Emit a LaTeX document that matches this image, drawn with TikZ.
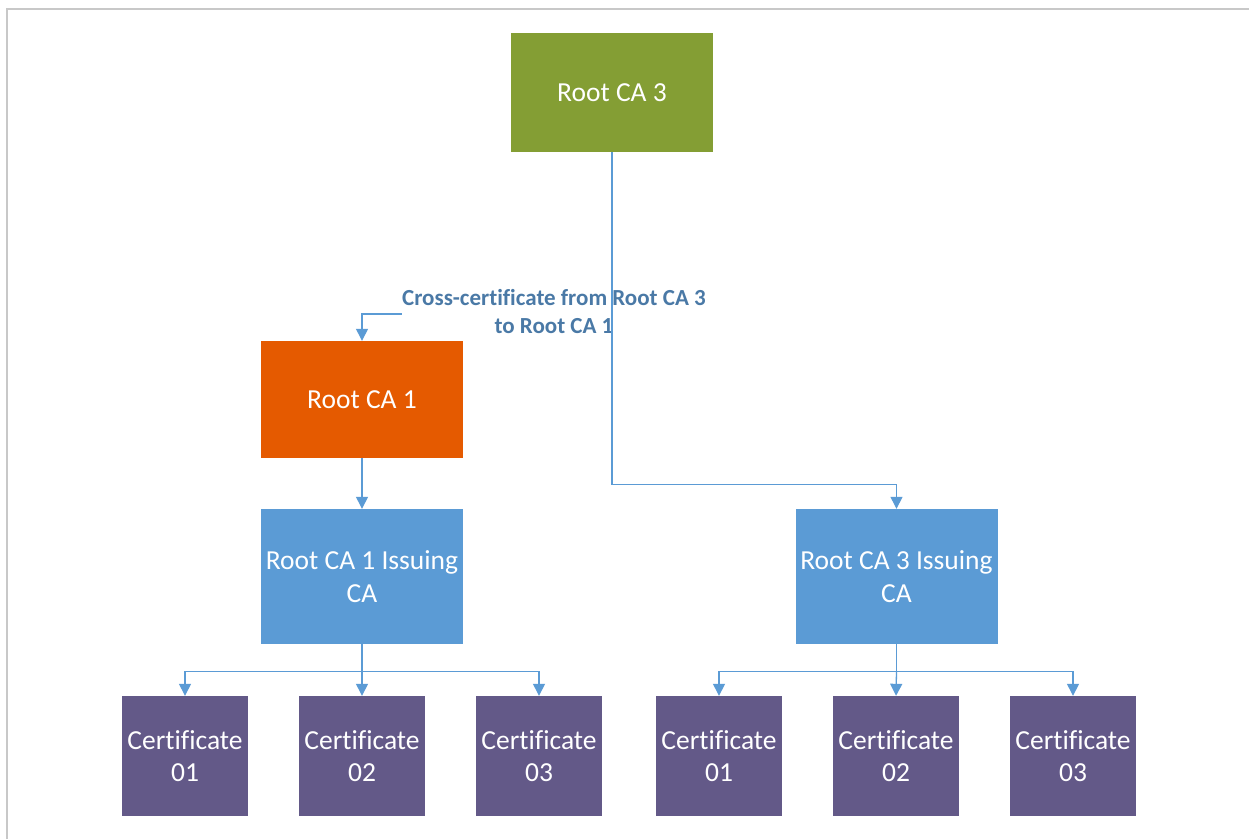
\documentclass[tikz,border=0pt]{standalone}
\usepackage{fontspec}
\setmainfont[Ligatures=NoCommon]{Carlito}
\usetikzlibrary{arrows.meta}
\definecolor{olive}{HTML}{849E34}
\definecolor{rootorange}{HTML}{E55A00}
\definecolor{issblue}{HTML}{5B9BD5}
\definecolor{certpurple}{HTML}{635988}
\definecolor{linkblue}{HTML}{5B9BD5}
\definecolor{labelblue}{HTML}{4A79A6}
\definecolor{frame}{HTML}{C8C8C8}
\begin{document}
\begin{tikzpicture}[x=1pt,y=-1pt,
  box/.style={draw=none,inner sep=0pt,align=center,text=white,font=\fontsize{27.5}{32.5}\selectfont},
  rootbox/.style={box,minimum width=202pt,minimum height=119pt},
  issbox/.style={box,fill=issblue,minimum width=202pt,minimum height=135pt},
  certbox/.style={box,fill=certpurple,minimum width=126pt,minimum height=120pt},
  link/.style={draw=linkblue,line width=1.3pt,-{Triangle[width=12pt,length=12pt]}},
  plain/.style={draw=linkblue,line width=1.3pt}]
\useasboundingbox (0,0) rectangle (1249,839);
\draw[frame,line width=2pt] (6.5,839) -- (6.5,8.5) -- (1249,8.5);
% nodes
\node[rootbox,fill=olive] (r3) at (612,92.5) {Root CA 3};
\node[rootbox,fill=rootorange,minimum height=117pt] (r1) at (362,399.5) {Root CA 1};
\node[issbox] (i1) at (362,576.5) {Root CA 1 Issuing\\CA};
\node[issbox] (i3) at (896.5,576.5) {Root CA 3 Issuing\\CA};
\node[certbox] (c1) at (185,756) {Certificate\\01};
\node[certbox] (c2) at (362,756) {Certificate\\02};
\node[certbox] (c3) at (539,756) {Certificate\\03};
\node[certbox] (c4) at (719,756) {Certificate\\01};
\node[certbox] (c5) at (896,756) {Certificate\\02};
\node[certbox] (c6) at (1073,756) {Certificate\\03};
% connectors
\node[font=\bfseries\fontsize{23}{28}\selectfont,text=labelblue,align=center,inner sep=0pt] (lbl) at (554,312) {Cross-certificate from Root CA 3\\to Root CA 1};
\draw[link] (r3.south) -- ++(0,332) -| (i3.north);
\draw[link] (lbl.west |- 0,314) coordinate (lw) -| (r1.north);
\draw[link] (r1.south) -- (i1.north);
\draw[plain] (i1.south) -- ++(0,27) coordinate (j1);
\draw[link] (j1) -| (c1.north);
\draw[link] (j1) -- (c2.north);
\draw[link] (j1) -| (c3.north);
\draw[plain] (i3.south) -- ++(0,27) coordinate (j3);
\draw[link] (j3) -| (c4.north);
\draw[link] (j3) -- (c5.north);
\draw[link] (j3) -| (c6.north);
\end{tikzpicture}
\end{document}
